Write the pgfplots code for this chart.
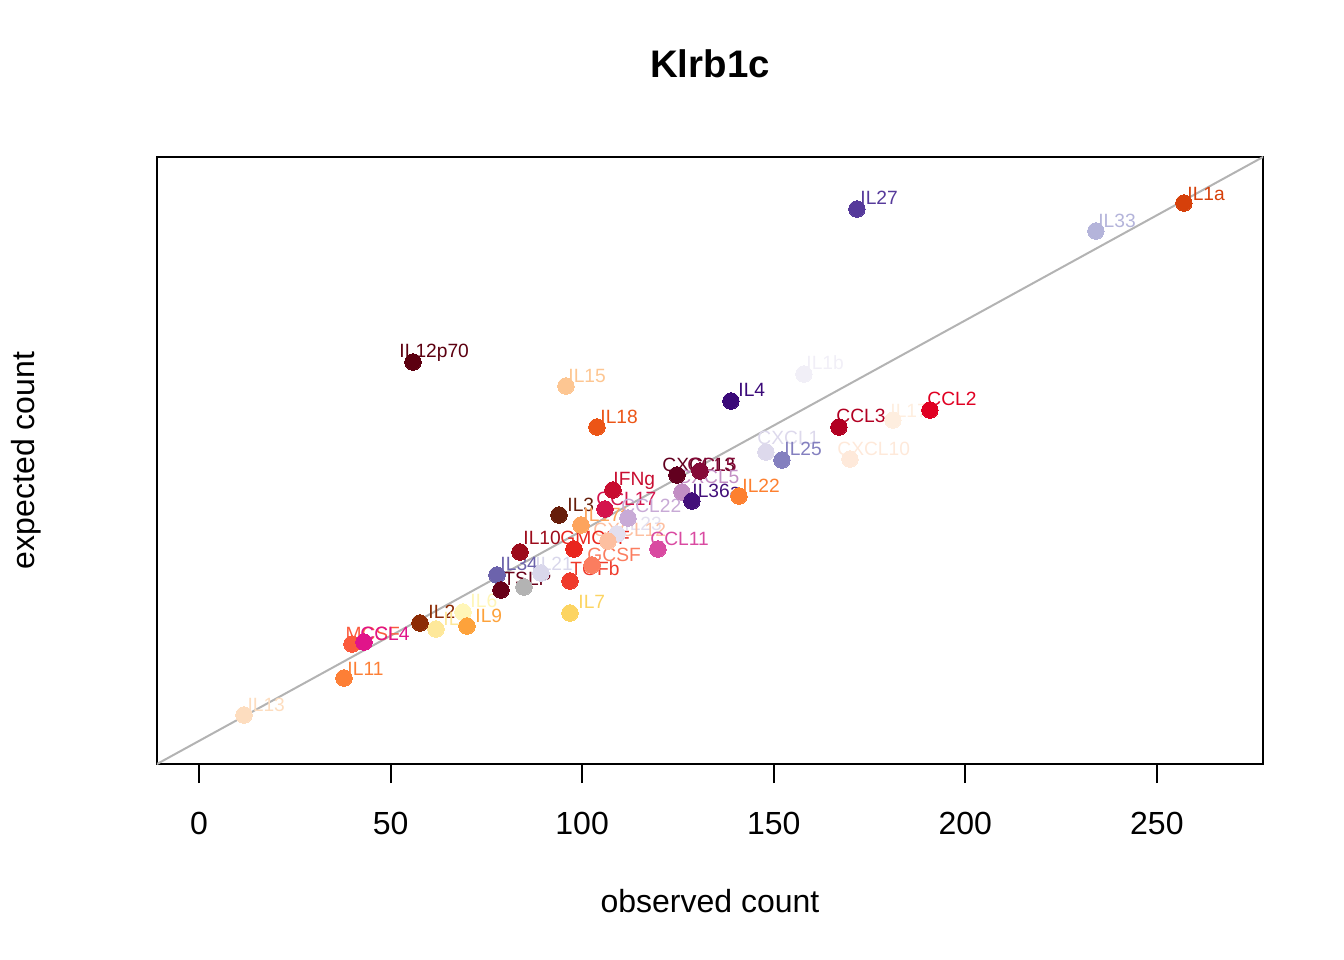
\documentclass[border=0pt]{standalone}
\usepackage{fontspec}
\setmainfont{Liberation Sans}
\usepackage{pgfplots}
\pgfplotsset{compat=1.18}

\newcommand{\pt}[3]{\addplot[only marks, mark=*, color=#3, mark size=3.1bp, mark options={solid, draw=#3, fill=#3, line width=0pt}] coordinates {(#1,#2)};}
\newcommand{\lab}[4]{\node[anchor=base west, inner sep=0pt, text=#4, font=\fontsize{7.2bp}{8bp}\selectfont] at (axis cs:#1,#2) {#3};}

\definecolor{cIIa}{HTML}{D6400A}
\definecolor{cIIIII}{HTML}{B4B4DA}
\definecolor{cIIVII}{HTML}{563A9B}
\definecolor{cIlXII}{HTML}{5C0010}
\definecolor{cIXV}{HTML}{FDC692}
\definecolor{cIXVIII}{HTML}{EC5516}
\definecolor{cIIb}{HTML}{F1EFF7}
\definecolor{cIV}{HTML}{3B0A79}
\definecolor{cCCLIII}{HTML}{B20022}
\definecolor{cIXVIIa}{HTML}{FEEEDF}
\definecolor{cCCLII}{HTML}{E00022}
\definecolor{cCXCLI}{HTML}{DDD9EC}
\definecolor{cIXXV}{HTML}{8480BF}
\definecolor{cCXCLX}{HTML}{FEE9DA}
\definecolor{cIFNg}{HTML}{C80D30}
\definecolor{cCCLXVII}{HTML}{D4134C}
\definecolor{cIIIIx}{HTML}{671E0B}
\definecolor{cIXVIIf}{HTML}{FDA45D}
\definecolor{cCCLXXII}{HTML}{C8AAD6}
\definecolor{cIXXIII}{HTML}{E3DFEF}
\definecolor{cCXCLXII}{HTML}{FDBFA0}
\definecolor{cGMCSF}{HTML}{E9261E}
\definecolor{cIX}{HTML}{9C0B1B}
\definecolor{cGCSF}{HTML}{FB7D5F}
\definecolor{cCCLXI}{HTML}{D94AA1}
\definecolor{cIXXXIV}{HTML}{6C63AC}
\definecolor{cIXXI}{HTML}{D9D7EB}
\definecolor{cTSLP}{HTML}{680019}
\definecolor{cGray}{HTML}{B3B3B3}
\definecolor{cTGFb}{HTML}{EF3B2C}
\definecolor{cIVII}{HTML}{FCD462}
\definecolor{cIIIx}{HTML}{8C2C05}
\definecolor{cIV5}{HTML}{FEE89A}
\definecolor{cIVI}{HTML}{FFF6B8}
\definecolor{cIIX}{HTML}{FDA23B}
\definecolor{cMCSF}{HTML}{FB5A3C}
\definecolor{cCCLIV}{HTML}{E0148A}
\definecolor{cIXI}{HTML}{FD7F36}
\definecolor{cIXIII}{HTML}{FDDDBF}
\definecolor{cCXCLXIII}{HTML}{62001F}
\definecolor{cCCLV}{HTML}{850A38}
\definecolor{cCXCLV}{HTML}{C28EC4}
\definecolor{cIXXXVIa}{HTML}{43107A}
\definecolor{cIXXII}{HTML}{FD8030}

\begin{document}
\begin{tikzpicture}
\path[use as bounding box] (-58.875bp,-73.5bp) rectangle (445.125bp,286.5bp);
\begin{axis}[
  scale only axis, width=414.75bp, height=227.625bp,
  xmin=-10.96, xmax=277.7, ymin=-10.96, ymax=277.7,
  axis line style={line width=0.75bp, black},
  xtick={0,50,100,150,200,250}, ytick=\empty,
  xtick pos=lower, tick align=outside, major tick length=7.2bp,
  tick style={line width=0.75bp, black},
  /pgf/number format/assume math mode=true,
  xticklabel style={font=\fontsize{12bp}{14bp}\selectfont, anchor=base, inner sep=0pt, yshift=-19.4bp},
  title={Klrb1c},
  title style={font=\bfseries\fontsize{14.4bp}{17bp}\selectfont, at={(axis description cs:0.5,1)}, anchor=base, inner sep=0pt, yshift=24bp},
  xlabel={observed count},
  xlabel style={font=\fontsize{12bp}{14bp}\selectfont, at={(axis description cs:0.5,0)}, anchor=base, inner sep=0pt, yshift=-55.5bp},
  ylabel={expected count},
  ylabel style={font=\fontsize{12bp}{14bp}\selectfont, at={(axis description cs:0,0.5)}, anchor=base, inner sep=0pt, yshift=46.1bp},
  clip=true,
]
\addplot[color={rgb,255:red,179;green,179;blue,179}, line width=0.75bp] coordinates {(-20,-20) (300,300)};

\pt{257.05}{255.80}{cIIa}
\pt{234.08}{242.49}{cIIIII}
\pt{171.71}{252.95}{cIIVII}
\pt{55.85}{180.20}{cIlXII}
\pt{95.77}{168.78}{cIXV}
\pt{103.86}{149.29}{cIXVIII}
\pt{157.88}{174.49}{cIIb}
\pt{138.83}{161.65}{cIV}
\pt{167.01}{149.29}{cCCLIII}
\pt{181.11}{152.62}{cIXVIIa}
\pt{190.76}{157.37}{cCCLII}
\pt{147.96}{137.40}{cCXCLI}
\pt{152.14}{133.60}{cIXXV}
\pt{169.89}{134.07}{cCXCLX}
\pt{108.04}{119.33}{cIFNg}
\pt{105.95}{110.30}{cCCLXVII}
\pt{93.95}{107.44}{cIIIIx}
\pt{99.69}{102.69}{cIXVIIf}
\pt{111.95}{106.02}{cCCLXXII}
\pt{109.08}{98.41}{cIXXIII}
\pt{106.73}{95.08}{cCXCLXII}
\pt{97.86}{91.27}{cGMCSF}
\pt{83.77}{89.85}{cIX}
\pt{102.56}{83.67}{cGCSF}
\pt{119.78}{91.27}{cCCLXI}
\pt{77.77}{78.91}{cIXXXIV}
\pt{89.25}{79.86}{cIXXI}
\pt{78.81}{71.78}{cTSLP}
\pt{84.81}{73.21}{cGray}
\pt{96.82}{76.06}{cTGFb}
\pt{96.82}{60.84}{cIVII}
\pt{57.67}{56.09}{cIIIx}
\pt{61.85}{53.23}{cIV5}
\pt{68.89}{61.32}{cIVI}
\pt{69.94}{54.66}{cIIX}
\pt{39.93}{46.10}{cMCSF}
\pt{43.06}{47.05}{cCCLIV}
\pt{37.84}{29.93}{cIXI}
\pt{11.74}{12.34}{cIXIII}
\pt{124.74}{126.46}{cCXCLXIII}
\pt{130.74}{128.36}{cCCLV}
\pt{126.04}{118.38}{cCXCLV}
\pt{128.65}{114.10}{cIXXXVIa}
\pt{140.92}{116.48}{cIXXII}

\lab{257.83}{257.23}{IL1a}{cIIa}
\lab{234.60}{244.39}{IL33}{cIIIII}
\lab{172.49}{255.33}{IL27}{cIIVII}
\lab{52.19}{182.57}{IL12p70}{cIlXII}
\lab{96.29}{170.68}{IL15}{cIXV}
\lab{104.64}{151.19}{IL18}{cIXVIII}
\lab{158.40}{176.87}{IL1b}{cIIb}
\lab{140.66}{164.03}{IL4}{cIV}
\lab{166.23}{151.66}{CCL3}{cCCLIII}
\lab{180.32}{154.04}{IL17a}{cIXVIIa}
\lab{189.98}{159.75}{CCL2}{cCCLII}
\lab{145.62}{141.20}{CXCL1}{cCXCLI}
\lab{152.66}{135.97}{IL25}{cIXXV}
\lab{166.49}{135.97}{CXCL10}{cCXCLX}
\lab{108.04}{121.71}{IFNg}{cIFNg}
\lab{103.60}{112.20}{CCL17}{cCCLXVII}
\lab{96.03}{109.34}{IL3}{cIIIIx}
\lab{100.21}{104.59}{IL17f}{cIXVIIf}
\lab{110.13}{108.87}{CCL22}{cCCLXXII}
\lab{110.91}{100.31}{IL23}{cIXXIII}
\lab{102.82}{97.46}{CXCL12}{cCXCLXII}
\lab{94.21}{93.65}{GMCSF}{cGMCSF}
\lab{84.55}{93.65}{IL10}{cIX}
\lab{101.25}{85.57}{GCSF}{cGCSF}
\lab{117.69}{93.18}{CCL11}{cCCLXI}
\lab{78.55}{81.29}{IL34}{cIXXXIV}
\lab{87.68}{81.29}{IL21}{cIXXI}
\lab{79.33}{74.16}{TSLP}{cTSLP}
\lab{96.82}{78.91}{TGFb}{cTGFb}
\lab{98.90}{63.22}{IL7}{cIVII}
\lab{59.76}{58.46}{IL2}{cIIIx}
\lab{63.67}{55.14}{IL5}{cIV5}
\lab{70.72}{63.70}{IL6}{cIVI}
\lab{72.02}{56.56}{IL9}{cIIX}
\lab{38.10}{48.00}{MCSF}{cMCSF}
\lab{42.01}{48.00}{CCL4}{cCCLIV}
\lab{38.62}{31.36}{IL11}{cIXI}
\lab{12.53}{13.77}{IL13}{cIXIII}
\lab{120.82}{128.36}{CXCL13}{cCXCLXIII}
\lab{127.35}{128.36}{CCL5}{cCCLV}
\lab{124.74}{122.66}{CXCL5}{cCXCLV}
\lab{128.65}{116.00}{IL36a}{cIXXXVIa}
\lab{141.70}{118.38}{IL22}{cIXXII}
\end{axis}
\end{tikzpicture}
\end{document}
